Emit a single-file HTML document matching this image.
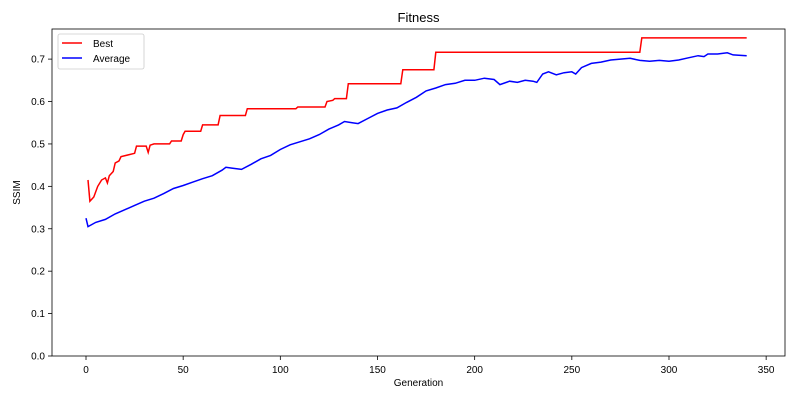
<!DOCTYPE html>
<html><head><meta charset="utf-8"><style>
body{margin:0;background:#fff;font-family:"Liberation Sans","DejaVu Sans",sans-serif}
svg{display:block}
</style></head><body>
<svg id="chart" width="800" height="400" xmlns="http://www.w3.org/2000/svg"></svg>
<script>
const bestGen=[1,2,4,6,8,10,11,12,14,15,17,18,25,26,31,32,33,35,43,44,49,50,51,59,60,68,69,82,83,108,109,123,124,127,128,134,135,162,163,179,180,285,286,340];
const bestVal=[0.415,0.365,0.375,0.40,0.415,0.42,0.408,0.425,0.435,0.455,0.46,0.47,0.478,0.495,0.495,0.48,0.497,0.5,0.5,0.507,0.507,0.522,0.53,0.53,0.545,0.545,0.567,0.567,0.583,0.583,0.587,0.587,0.60,0.603,0.607,0.607,0.642,0.642,0.675,0.675,0.716,0.716,0.75,0.75];
const avgGen=[0,1,5,10,15,20,25,30,35,40,45,50,55,60,65,70,72,75,80,85,90,95,100,105,110,115,120,125,130,133,137,140,145,150,155,160,165,170,175,180,185,190,195,200,205,210,213,218,222,226,230,232,235,238,242,246,250,252,255,260,265,270,275,280,285,290,295,300,305,310,315,318,320,325,330,333,340];
const avgVal=[0.325,0.305,0.315,0.322,0.335,0.345,0.355,0.365,0.372,0.383,0.395,0.402,0.41,0.418,0.425,0.438,0.445,0.443,0.44,0.452,0.465,0.473,0.487,0.498,0.505,0.512,0.522,0.535,0.545,0.553,0.55,0.548,0.56,0.572,0.58,0.585,0.598,0.61,0.625,0.632,0.64,0.643,0.65,0.65,0.655,0.652,0.64,0.648,0.645,0.65,0.648,0.645,0.665,0.67,0.663,0.668,0.67,0.665,0.68,0.69,0.693,0.698,0.70,0.702,0.697,0.695,0.697,0.695,0.698,0.703,0.708,0.706,0.712,0.712,0.715,0.71,0.708];
const xTicks=[0,50,100,150,200,250,300,350];
const yTicks=[0,0.1,0.2,0.3,0.4,0.5,0.6,0.7];

const NS="http://www.w3.org/2000/svg";
const svg=document.getElementById('chart');
const L=52,R=785,T=29,B=356;
const xMin=-17.5,xMax=359.7,yMin=0,yMax=0.771;
const X=v=>L+(v-xMin)/(xMax-xMin)*(R-L);
const Y=v=>B-(v-yMin)/(yMax-yMin)*(B-T);
function el(tag,attrs,parent){const e=document.createElementNS(NS,tag);for(const k in attrs)e.setAttribute(k,attrs[k]);(parent||svg).appendChild(e);return e;}

const title=el('text',{x:(L+R)/2,y:22,'text-anchor':'middle','font-size':13,fill:'#000'});
title.textContent='Fitness';



xTicks.forEach(t=>{
  const g=el('g',{});
  
  
  el('line',{x1:X(t),x2:X(t),y1:B,y2:B+4,stroke:'#000','stroke-width':0.8},g);
  const tx=el('text',{x:X(t),y:B+17,'text-anchor':'middle','font-size':10,fill:'#000'},g);
  tx.textContent=t;
});
yTicks.forEach(t=>{
  const g=el('g',{});
  
  
  el('line',{x1:L-4,x2:L,y1:Y(t),y2:Y(t),stroke:'#000','stroke-width':0.8},g);
  const tx=el('text',{x:L-7,y:Y(t)+3.5,'text-anchor':'end','font-size':10,fill:'#000'},g);
  tx.textContent=t.toFixed(1);
});
const xl=el('text',{x:(L+R)/2,y:386,'text-anchor':'middle','font-size':10,fill:'#000'});
xl.textContent='Generation';


const yl=el('text',{x:20,y:(T+B)/2,'text-anchor':'middle','font-size':10,fill:'#000',transform:`rotate(-90 20 ${(T+B)/2})`});
yl.textContent='SSIM';



function pts(gs,vs){return gs.map((g,i)=>X(g).toFixed(1)+','+Y(vs[i]).toFixed(1)).join(' ');}
const bl=el('polyline',{points:pts(bestGen,bestVal),fill:'none',stroke:'#ff0000','stroke-width':1.5});


const al=el('polyline',{points:pts(avgGen,avgVal),fill:'none',stroke:'#0000ff','stroke-width':1.5});



const frame=el('rect',{x:L,y:T,width:R-L,height:B-T,fill:'none',stroke:'#000','stroke-width':0.8});



const lg=el('g',{});


el('rect',{x:58,y:34,width:86,height:35,rx:2,fill:'#fff',stroke:'#ccc','stroke-width':0.8},lg);
el('line',{x1:62,x2:82,y1:43,y2:43,stroke:'#ff0000','stroke-width':1.5},lg);
el('line',{x1:62,x2:82,y1:58,y2:58,stroke:'#0000ff','stroke-width':1.5},lg);
const l1=el('text',{x:93,y:47,'font-size':10,fill:'#000'},lg);l1.textContent='Best';


const l2=el('text',{x:93,y:62,'font-size':10,fill:'#000'},lg);l2.textContent='Average';


</script>
</body></html>
